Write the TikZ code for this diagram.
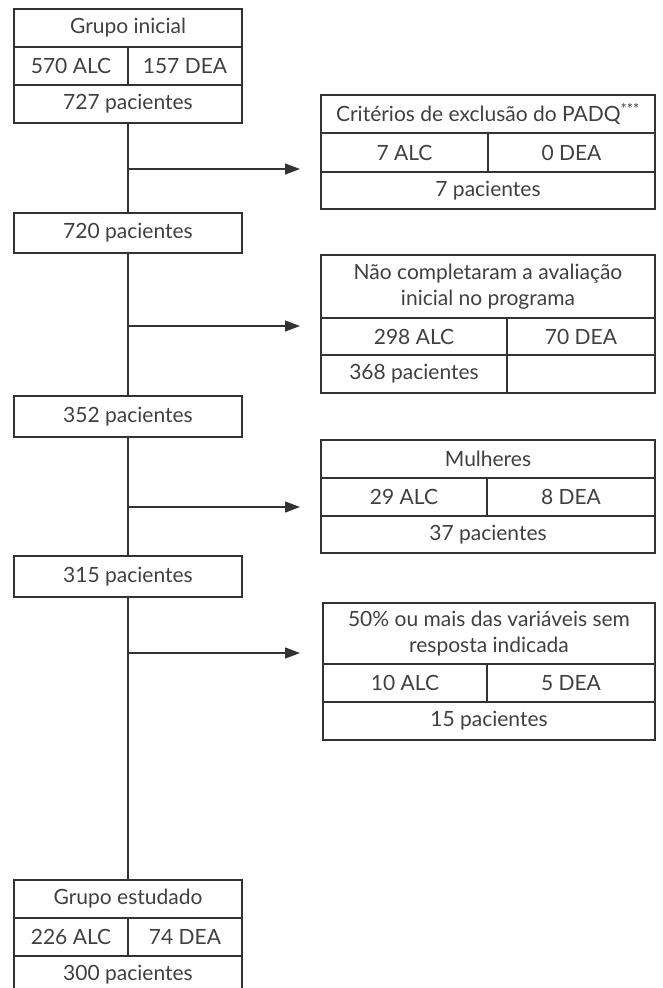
\documentclass[tikz,border=0pt]{standalone}
\usepackage{fontspec}
\setmainfont{Lato}
\usetikzlibrary{arrows.meta}
\definecolor{linec}{HTML}{333333}
\definecolor{textc}{HTML}{404040}
\begin{document}
\begin{tikzpicture}[x=1pt,y=-1pt,
  cell/.style={draw=linec, line width=1.2pt, inner sep=0pt, text=textc,
    font=\fontsize{21}{26}\selectfont, align=center},
  link/.style={draw=linec, line width=1.2pt},
  arr/.style={draw=linec, line width=1.2pt, -{Triangle[length=15pt,width=11pt]}}]
\useasboundingbox[fill=white] (0,0) rectangle (662,988);
% left column
\node[cell, minimum width=228pt, minimum height=38pt] (g0a) at (128,28) {Grupo inicial};
\node[cell, minimum width=114pt, minimum height=38pt] (g0b) at (71,66) {570 ALC};
\node[cell, minimum width=114pt, minimum height=38pt] (g0c) at (185,66) {157 DEA};
\node[cell, minimum width=228pt, minimum height=38pt] (g0d) at (128,104) {727 pacientes};
\node[cell, minimum width=228pt, minimum height=40pt] (p720) at (128,233) {720 pacientes};
\node[cell, minimum width=228pt, minimum height=41pt] (p352) at (128,416.5) {352 pacientes};
\node[cell, minimum width=228pt, minimum height=41pt] (p315) at (128,576.5) {315 pacientes};
\node[cell, minimum width=228pt, minimum height=38pt] (g5a) at (128,899) {Grupo estudado};
\node[cell, minimum width=114pt, minimum height=38pt] (g5b) at (71,937) {226 ALC};
\node[cell, minimum width=114pt, minimum height=38pt] (g5c) at (185,937) {74 DEA};
\node[cell, minimum width=228pt, minimum height=38pt] (g5d) at (128,975) {300 pacientes};
% box A
\node[cell, minimum width=334pt, minimum height=38pt] (aH) at (488,114) {Critérios de exclusão do PADQ\textsuperscript{***}};
\node[cell, minimum width=167pt, minimum height=39pt] (aL) at (404.5,152.5) {7 ALC};
\node[cell, minimum width=167pt, minimum height=39pt] (aR) at (571.5,152.5) {0 DEA};
\node[cell, minimum width=334pt, minimum height=37pt] (aT) at (488,190.5) {7 pacientes};
% box B
\node[cell, minimum width=334pt, minimum height=63pt] (bH) at (488,286.5) {Não completaram a avaliação\\inicial no programa};
\node[cell, minimum width=186pt, minimum height=37pt] (bL) at (414,336.5) {298 ALC};
\node[cell, minimum width=148pt, minimum height=37pt] (bR) at (581,336.5) {70 DEA};
\node[cell, minimum width=186pt, minimum height=38pt] (bT) at (414,374) {368 pacientes};
\node[cell, minimum width=148pt, minimum height=38pt] (bE) at (581,374) {};
% box C
\node[cell, minimum width=334pt, minimum height=38pt] (cH) at (488,459) {Mulheres};
\node[cell, minimum width=166pt, minimum height=38pt] (cL) at (404,497) {29 ALC};
\node[cell, minimum width=168pt, minimum height=38pt] (cR) at (571,497) {8 DEA};
\node[cell, minimum width=334pt, minimum height=37pt] (cT) at (488,534.5) {37 pacientes};
% box D
\node[cell, minimum width=332pt, minimum height=61pt] (dH) at (489,633.5) {50\% ou mais das variáveis sem\\resposta indicada};
\node[cell, minimum width=164pt, minimum height=38pt] (dL) at (405,683) {10 ALC};
\node[cell, minimum width=168pt, minimum height=38pt] (dR) at (571,683) {5 DEA};
\node[cell, minimum width=332pt, minimum height=38pt] (dT) at (489,721) {15 pacientes};
% connectors
\coordinate (j1) at (128,169); \coordinate (t1) at (300,169);
\coordinate (j2) at (128,326); \coordinate (t2) at (300,326);
\coordinate (j3) at (128,507); \coordinate (t3) at (300,507);
\coordinate (j4) at (128,653); \coordinate (t4) at (300,653);
\draw[link] (g0d.south) -- (p720.north);
\draw[link] (p720.south) -- (p352.north);
\draw[link] (p352.south) -- (p315.north);
\draw[link] (p315.south) -- (g5a.north);
\draw[arr] (j1) -- (t1);
\draw[arr] (j2) -- (t2);
\draw[arr] (j3) -- (t3);
\draw[arr] (j4) -- (t4);
\end{tikzpicture}
\end{document}
